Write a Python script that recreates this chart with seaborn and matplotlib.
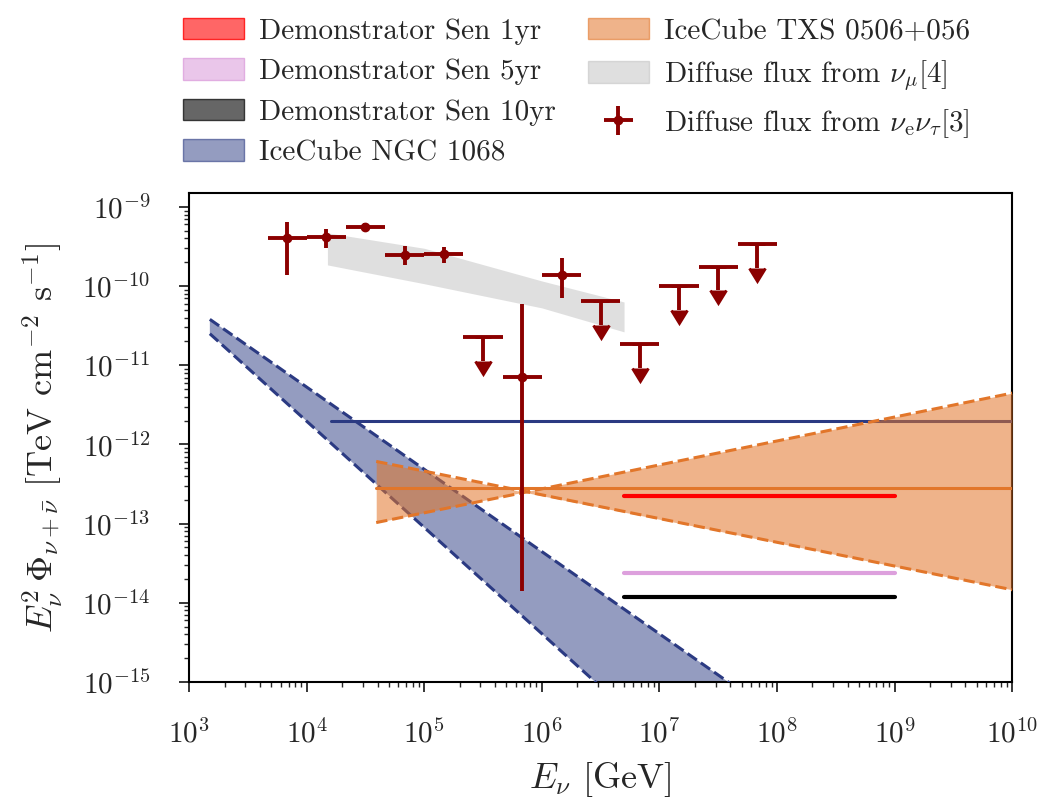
import numpy as np
import pandas as pd
import matplotlib
matplotlib.use("Agg")
import matplotlib.pyplot as plt
from matplotlib.patches import Patch
from matplotlib.colors import to_rgba
from matplotlib.ticker import LogLocator, NullFormatter, FixedLocator
import seaborn as sns

# ---------------- data ----------------
# Diffuse flux from nu_e + nu_tau (cascades), measured bins  [GeV], [TeV cm^-2 s^-1]
casc_E = [6.81e3, 1.47e4, 3.16e4, 6.81e4, 1.47e5, 6.81e5, 1.47e6]
casc_Elo = [4.64e3, 1.00e4, 2.15e4, 4.64e4, 1.00e5, 4.64e5, 1.00e6]
casc_Ehi = [1.00e4, 2.15e4, 4.64e4, 1.00e5, 2.15e5, 1.00e6, 2.15e6]
casc_F = [4.0e-10, 4.2e-10, 5.5e-10, 2.5e-10, 2.55e-10, 7.2e-12, 1.38e-10]
casc_Fup = [6.5e-10, 5.3e-10, 6.2e-10, 3.2e-10, 3.15e-10, 6.0e-11, 2.25e-10]
casc_Fdn = [1.38e-10, 3.0e-10, 4.9e-10, 1.85e-10, 1.95e-10, 1.4e-14, 7.0e-11]

# Diffuse flux from nu_e + nu_tau, upper limits
ul_E = [3.16e5, 3.16e6, 6.81e6, 1.47e7, 3.16e7, 6.81e7]
ul_Elo = [2.15e5, 2.15e6, 4.64e6, 1.00e7, 2.15e7, 4.64e7]
ul_Ehi = [4.64e5, 4.64e6, 1.00e7, 2.15e7, 4.64e7, 1.00e8]
ul_F = [2.26e-11, 6.4e-11, 1.86e-11, 9.9e-11, 1.76e-10, 3.4e-10]
ul_Fend = [1.13e-11, 3.2e-11, 9.3e-12, 4.95e-11, 8.8e-11, 1.7e-10]

# Diffuse flux from nu_mu: band
numu_E = [1.5e4, 1.0e5, 1.0e6, 5.0e6]
numu_hi = [4.7e-10, 3.0e-10, 1.16e-10, 6.3e-11]
numu_lo = [1.85e-10, 1.07e-10, 5.3e-11, 2.64e-11]

# IceCube NGC 1068: power-law band (two bounding spectra)
ngc_hard_E = [1.5e3, 1.0e8]
ngc_hard_F = [3.8e-11, 3.7e-16]
ngc_soft_E = [1.5e3, 1.0e7]
ngc_soft_F = [2.5e-11, 1.85e-16]
ngc_line_E = [1.6e4, 1.0e10]
ngc_line_F = [2.0e-12, 2.0e-12]

# IceCube TXS 0506+056: bow-tie around the best fit
txs_E = [3.9e4, 7.0e5, 1.0e10]
txs_hi = [6.1e-13, 2.5e-13, 4.45e-12]
txs_lo = [1.03e-13, 2.5e-13, 1.46e-14]
txs_best_E = [3.9e4, 1.0e10]
txs_best_F = [2.8e-13, 2.8e-13]
txs_softA_F = [6.1e-13, 1.46e-14]
txs_hardB_F = [1.03e-13, 4.45e-12]

# Demonstrator sensitivities
sens_E = [5.0e6, 1.0e9]
sens_1yr = [2.2e-13, 2.2e-13]
sens_5yr = [2.37e-14, 2.37e-14]
sens_10yr = [1.18e-14, 1.18e-14]

# axis decades
x_ticks = [1e3, 1e4, 1e5, 1e6, 1e7, 1e8, 1e9, 1e10]
y_ticks = [1e-15, 1e-14, 1e-13, 1e-12, 1e-11, 1e-10, 1e-9]

labels = ["Demonstrator Sen 1yr", "Demonstrator Sen 5yr", "Demonstrator Sen 10yr",
          "IceCube NGC 1068", "IceCube TXS 0506+056",
          r"Diffuse flux from $\nu_\mu$[4]",
          r"Diffuse flux from $\nu_{\rm e}\nu_\tau$[3]"]

# ---------------- style ----------------
FS = 21       # ticks and legend
FS_LAB = 26   # axis labels
sns.set_theme(style="ticks")
plt.rcParams.update({
    "font.family": "serif",
    "font.serif": ["cmr10"],
    "mathtext.fontset": "cm",
    "axes.formatter.use_mathtext": True,
    "axes.unicode_minus": True,
    "font.size": FS,
    "axes.linewidth": 1.5,
    "xtick.major.size": 7, "ytick.major.size": 7,
    "xtick.minor.size": 3.8, "ytick.minor.size": 3.8,
    "xtick.major.width": 1.3, "ytick.major.width": 1.3,
    "xtick.minor.width": 1.0, "ytick.minor.width": 1.0,
    "xtick.major.pad": 20, "ytick.major.pad": 21,
    "axes.edgecolor": "black",
})

C_RED = "red"
C_PLUM = "plum"
C_BLACK = "black"
C_NAVY = "#2b3a82"
C_ORANGE = "#e2762a"
C_GREY = "silver"
C_DATA = "darkred"

fig = plt.figure(figsize=(10.45, 8.08), dpi=100)
ax = fig.add_axes([0.181, 0.156, 0.7876, 0.6052])
ax.set_xscale("log")
ax.set_yscale("log")

# nu_mu band
ax.fill_between(numu_E, numu_lo, numu_hi, color=C_GREY, alpha=0.5, lw=0, zorder=1)

# NGC 1068 band
ngc_poly_E = ngc_hard_E + ngc_soft_E[::-1]
ngc_poly_F = ngc_hard_F + ngc_soft_F[::-1]
ax.fill(ngc_poly_E, ngc_poly_F, color=C_NAVY, alpha=0.5, lw=0, zorder=2)
sns.lineplot(x=ngc_hard_E, y=ngc_hard_F, color=C_NAVY, lw=2.2, ls="--", ax=ax, zorder=3)
sns.lineplot(x=ngc_soft_E, y=ngc_soft_F, color=C_NAVY, lw=2.2, ls="--", ax=ax, zorder=3)
sns.lineplot(x=ngc_line_E, y=ngc_line_F, color=C_NAVY, lw=2.2, ax=ax, zorder=3)

# TXS 0506+056 bow-tie
ax.fill_between(txs_E, txs_lo, txs_hi, color=C_ORANGE, alpha=0.55, lw=0, zorder=4)
sns.lineplot(x=txs_best_E, y=txs_softA_F, color=C_ORANGE, lw=2.2, ls="--", ax=ax, zorder=5)
sns.lineplot(x=txs_best_E, y=txs_hardB_F, color=C_ORANGE, lw=2.2, ls="--", ax=ax, zorder=5)
sns.lineplot(x=txs_best_E, y=txs_best_F, color=C_ORANGE, lw=2.2, ax=ax, zorder=5)

# Demonstrator sensitivities
sns.lineplot(x=sens_E, y=sens_1yr, color=C_RED, lw=3, ax=ax, zorder=6)
sns.lineplot(x=sens_E, y=sens_5yr, color=C_PLUM, lw=3, ax=ax, zorder=6)
sns.lineplot(x=sens_E, y=sens_10yr, color=C_BLACK, lw=3, ax=ax, zorder=6)

# nu_e + nu_tau data points
cE = np.array(casc_E)
cF = np.array(casc_F)
eb = ax.errorbar(cE, cF,
                 xerr=[cE - np.array(casc_Elo), np.array(casc_Ehi) - cE],
                 yerr=[cF - np.array(casc_Fdn), np.array(casc_Fup) - cF],
                 fmt="o", ms=6, color=C_DATA, elinewidth=2.8, capsize=0, zorder=8)
uE = np.array(ul_E)
uF = np.array(ul_F)
ax.errorbar(uE, uF, xerr=[uE - np.array(ul_Elo), np.array(ul_Ehi) - uE],
            fmt="none", color=C_DATA, elinewidth=2.8, capsize=0, zorder=8)
ax.errorbar(uE, uF, yerr=[uF - np.array(ul_Fend), np.zeros_like(uF)], uplims=True,
            fmt="none", color=C_DATA, elinewidth=2.8, capsize=6, capthick=2, zorder=8)

# ---------------- axes ----------------
ax.set_xlim(1e3, 1e10)
ax.set_ylim(1e-15, 1.5e-9)
ax.xaxis.set_major_locator(FixedLocator(x_ticks))
ax.yaxis.set_major_locator(FixedLocator(y_ticks))
for axis in (ax.xaxis, ax.yaxis):
    axis.set_minor_locator(LogLocator(base=10, subs=np.arange(2, 10), numticks=300))
    axis.set_minor_formatter(NullFormatter())
ax.tick_params(labelsize=FS)
ax.set_xlabel(r"$E_\nu$ [GeV]", fontsize=FS_LAB, labelpad=8)
ax.set_ylabel(r"$E_\nu^2\,\Phi_{\nu+\bar{\nu}}$ [TeV cm$^{-2}$ s$^{-1}$]",
              fontsize=FS_LAB, labelpad=12)
ax.set_facecolor("white")
fig.patch.set_facecolor("white")

# ---------------- legend ----------------
handles = [
    Patch(facecolor=to_rgba(C_RED, 0.6), edgecolor=to_rgba(C_RED, 0.8)),
    Patch(facecolor=to_rgba(C_PLUM, 0.6), edgecolor=to_rgba(C_PLUM, 0.8)),
    Patch(facecolor=to_rgba(C_BLACK, 0.6), edgecolor=to_rgba(C_BLACK, 0.7)),
    Patch(facecolor=to_rgba(C_NAVY, 0.5), edgecolor=to_rgba(C_NAVY, 0.6)),
    Patch(facecolor=to_rgba(C_ORANGE, 0.55), edgecolor=to_rgba(C_ORANGE, 0.6)),
    Patch(facecolor=to_rgba(C_GREY, 0.5), edgecolor=to_rgba(C_GREY, 0.55)),
    eb,
]
fig.legend(handles, labels, loc="upper left", bbox_to_anchor=(0.175, 0.978), ncol=2,
           frameon=False, fontsize=FS, handlelength=2.1, handleheight=0.75,
           handletextpad=0.5, columnspacing=1.1, labelspacing=0.47,
           borderpad=0.0, borderaxespad=0.0)

fig.savefig("out.png", dpi=100, facecolor="white")
